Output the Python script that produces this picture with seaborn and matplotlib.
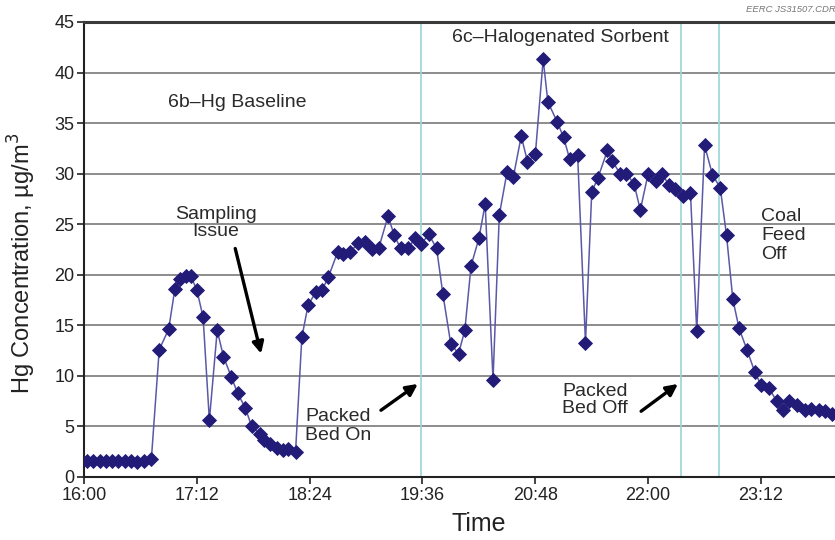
import matplotlib
matplotlib.use("Agg")
import matplotlib.pyplot as plt
import seaborn as sns
import pandas as pd

# Sample times (clock time) and measured Hg concentrations, µg/m3
times = [
    "16:02", "16:06", "16:10", "16:14", "16:18", "16:22", "16:26", "16:30", "16:34", "16:38",
    "16:43", "16:48", "16:54", "16:58", "17:01", "17:05", "17:08", "17:12", "17:16", "17:20",
    "17:25", "17:29", "17:34", "17:38", "17:43", "17:47", "17:52", "17:55", "17:59", "18:03",
    "18:07", "18:10", "18:15", "18:19", "18:23", "18:28", "18:32", "18:36", "18:42", "18:45",
    "18:50", "18:55", "18:59", "19:04", "19:08", "19:14", "19:18", "19:22", "19:27", "19:31",
    "19:35", "19:40", "19:45", "19:49", "19:54", "19:59", "20:03", "20:07", "20:12", "20:16",
    "20:21", "20:25", "20:30", "20:34", "20:39", "20:43", "20:48", "20:53", "20:56", "21:02",
    "21:06", "21:10", "21:15", "21:20", "21:24", "21:28", "21:34", "21:37", "21:42", "21:46",
    "21:51", "21:55", "22:00", "22:05", "22:09", "22:13", "22:17", "22:22", "22:27", "22:31",
    "22:36", "22:41", "22:46", "22:50", "22:54", "22:58", "23:03", "23:08", "23:12", "23:17",
    "23:22", "23:26", "23:30", "23:35", "23:40", "23:44", "23:49", "23:53", "23:57",
]
hg = [
    1.6, 1.6, 1.6, 1.6, 1.6, 1.6, 1.6, 1.6, 1.5, 1.6,
    1.8, 12.6, 14.6, 18.6, 19.6, 19.9, 19.9, 18.5, 15.8, 5.6,
    14.5, 11.9, 9.9, 8.3, 6.8, 5.0, 4.3, 3.7, 3.3, 2.9,
    2.7, 2.8, 2.5, 13.8, 17.0, 18.3, 18.5, 19.8, 22.3, 22.1,
    22.3, 23.1, 23.2, 22.5, 22.6, 25.8, 23.9, 22.6, 22.6, 23.6,
    23.0, 24.0, 22.6, 18.1, 13.2, 12.2, 14.5, 20.9, 23.6, 27.0,
    9.6, 25.9, 30.2, 29.7, 33.7, 31.2, 31.9, 41.3, 37.1, 35.1,
    33.6, 31.4, 31.8, 13.3, 28.2, 29.6, 32.3, 31.3, 30.0, 30.0,
    29.0, 26.4, 30.0, 29.3, 30.0, 28.9, 28.5, 27.8, 28.1, 14.4,
    32.8, 29.9, 28.6, 23.9, 17.6, 14.7, 12.6, 10.4, 9.1, 8.8,
    7.5, 6.6, 7.5, 7.1, 6.6, 6.7, 6.6, 6.5, 6.2,
]

# Event markers (packed bed on, packed bed off, coal feed off)
event_times = ["19:35", "22:21", "22:45"]

tick_labels = ["16:00", "17:12", "18:24", "19:36", "20:48", "22:00", "23:12"]
y_ticks = [0, 5, 10, 15, 20, 25, 30, 35, 40, 45]


def to_minutes(t):
    h, m = t.split(":")
    return (int(h) - 16) * 60 + int(m)


df = pd.DataFrame({"minutes": [to_minutes(t) for t in times], "hg": hg})

sns.set_theme(style="ticks")
plt.rcParams["font.family"] = ["Liberation Sans", "DejaVu Sans"]

fig = plt.figure(figsize=(8.35, 5.40), dpi=100)
ax = fig.add_axes([0.1006, 0.1167, 0.9459, 0.8426])

line_color = "#5a58a8"
marker_color = "#221c78"

for t in event_times:
    ax.axvline(to_minutes(t), color="#9ad6d8", lw=1.2, zorder=1)

sns.lineplot(data=df, x="minutes", y="hg", ax=ax, color=line_color, lw=1.1,
             marker="D", markersize=6.8, markerfacecolor=marker_color,
             markeredgecolor=marker_color, markeredgewidth=0.6, zorder=3)

ax.set_xlim(0, 504)
ax.set_ylim(0, 45)
ax.set_xticks([to_minutes(t) for t in tick_labels])
ax.set_xticklabels(tick_labels)
ax.set_yticks(y_ticks)
ax.tick_params(axis="both", labelsize=13, length=5, width=1.2, color="#222222",
               labelcolor="#222222", pad=2)

ax.yaxis.grid(True, color="#8c8c8c", lw=1.4)
ax.xaxis.grid(False)
ax.set_axisbelow(True)

for side in ("left", "bottom"):
    ax.spines[side].set_color("#222222")
    ax.spines[side].set_linewidth(1.5)
ax.spines["top"].set_color("#3a3a3a")
ax.spines["top"].set_linewidth(2.2)
ax.spines["right"].set_visible(False)

ax.set_xlabel("Time", fontsize=18, color="#222222", labelpad=6)
ax.set_ylabel("Hg Concentration, µg/m$^3$", fontsize=17, color="#222222", labelpad=5)
ax.yaxis.set_label_coords(-0.058, 0.47)

txt = dict(fontsize=14, color="#2a2a2a")
ax.text(98, 37.0, "6b–Hg Baseline", ha="center", va="center", **txt)
ax.text(304, 43.5, "6c–Halogenated Sorbent", ha="center", va="center", **txt)
ax.text(84, 25.1, "Sampling\nIssue", ha="center", va="center", linespacing=1.0, **txt)
ax.text(141, 5.0, "Packed\nBed On", ha="left", va="center", linespacing=1.15, **txt)
ax.text(305, 7.6, "Packed\nBed Off", ha="left", va="center", linespacing=1.05, **txt)
ax.text(432, 23.9, "Coal\nFeed\nOff", ha="left", va="center", linespacing=1.15, **txt)

arrow = dict(arrowstyle="-|>", color="black", lw=2.4, mutation_scale=17,
             shrinkA=0, shrinkB=0)
ax.annotate("", xy=(113, 12.2), xytext=(96.5, 22.6), arrowprops=arrow)
ax.annotate("", xy=(213, 9.2), xytext=(189.5, 6.6), arrowprops=arrow)
ax.annotate("", xy=(379, 9.2), xytext=(355.5, 6.5), arrowprops=arrow)

fig.text(746 / 835, 1 - 9 / 540, "EERC JS31507.CDR", fontsize=6.8, style="italic",
         color="#777777", ha="left", va="center")

fig.savefig("out.png", dpi=100)
